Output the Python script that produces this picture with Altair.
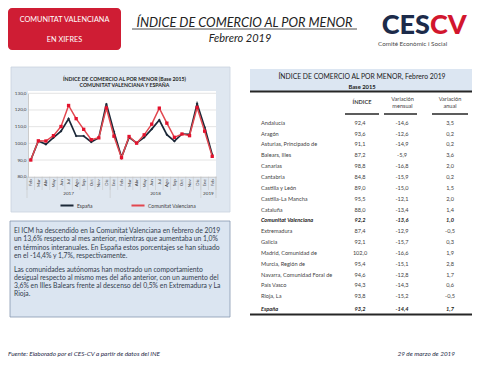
import json
import altair as alt
import pandas as pd

# ------------------------------------------------------------------ data
months = ["Feb", "Mar", "Abr", "May", "Jun", "Jul", "Ago", "Sep", "Oct", "Nov", "Dic",
          "Ene", "Feb", "Mar", "Abr", "May", "Jun", "Jul", "Ago", "Sep", "Oct", "Nov", "Dic",
          "Ene", "Feb"]
years = ["2017", "2018", "2019"]
months_per_year = [11, 12, 2]
espana = [90.0, 101.4, 99.4, 103.4, 107.3, 114.7, 104.4, 104.4, 100.8, 103.4, 123.6,
          107.0, 91.6, 103.6, 100.2, 103.6, 108.5, 114.0, 105.2, 101.3, 105.6, 105.4, 123.7,
          109.6, 93.2]
cvalenciana = [90.0, 101.5, 101.4, 104.6, 110.1, 122.7, 114.8, 108.4, 102.2, 103.3, 121.2,
               104.3, 91.4, 104.1, 100.1, 105.1, 111.5, 121.1, 112.1, 103.6, 105.6, 104.6, 121.5,
               107.3, 92.2]
y_ticks = [80, 90, 100, 110, 120, 130]
series_names = ["España", "Comunitat Valenciana"]

regions = ["Andalucía", "Aragón", "Asturias, Principado de", "Balears, Illes", "Canarias",
           "Cantabria", "Castilla y León", "Castilla-La Mancha", "Cataluña",
           "Comunitat Valenciana", "Extremadura", "Galicia", "Madrid, Comunidad de",
           "Murcia, Región de", "Navarra, Comunidad Foral de", "País Vasco", "Rioja, La"]
indice = [92.4, 93.6, 91.1, 87.2, 98.8, 84.8, 89.0, 95.5, 88.0, 92.2, 87.4, 92.1, 102.0,
          95.4, 94.6, 94.3, 93.8]
var_mensual = [-14.6, -12.6, -14.9, -5.9, -16.8, -15.9, -15.0, -12.1, -13.4, -13.6, -12.9,
               -15.7, -16.6, -15.1, -12.8, -14.3, -15.2]
var_anual = [3.5, 0.2, 0.2, 3.6, 2.0, 0.2, 1.5, 2.0, 1.4, 1.0, -0.5, 0.3, 1.9, 2.8, 1.7,
             0.6, -0.5]
total_name = "España"
total_values = [93.2, -14.4, 1.7]
highlight = "Comunitat Valenciana"

paragraph_1 = ["El ICM ha descendido en la Comunitat Valenciana en febrero de 2019",
               "un 13,6% respecto al mes anterior, mientras que aumentaba un 1,0%",
               "en términos interanuales. En España estos porcentajes se han situado",
               "en el -14,4% y 1,7%, respectivamente."]
paragraph_2 = ["Las comunidades autónomas han mostrado un comportamiento",
               "desigual respecto al mismo mes del año anterior, con un aumento del",
               "3,6% en Illes Balears frente al descenso del 0,5% en Extremadura y La",
               "Rioja."]

# ------------------------------------------------------------------ helpers
W, H = 464, 350
OFF = 8
FONT = "Lato"


def px(v):
    return v - OFF


one = alt.Data(values=[{"k": 0}])


def rect(x0, y0, x1, y1, **kw):
    return alt.Chart(one).mark_rect(**kw).encode(
        x=alt.value(px(x0)), x2=alt.value(px(x1)), y=alt.value(px(y0)), y2=alt.value(px(y1)))


def hline(x0, x1, y, **kw):
    return alt.Chart(one).mark_rule(**kw).encode(
        x=alt.value(px(x0)), x2=alt.value(px(x1)), y=alt.value(px(y)))


def text(t, x, y, **kw):
    kw.setdefault("font", FONT)
    kw.setdefault("baseline", "middle")
    return alt.Chart(one).mark_text(text=t, **kw).encode(x=alt.value(px(x)), y=alt.value(px(y)))


def fmt(v):
    return f"{v:.1f}".replace(".", ",")


layers = []

# ------------------------------------------------------------------ header
layers += [
    rect(8, 8, 121, 50, fill="#cf1d34", cornerRadius=4),
    text("COMUNITAT VALENCIANA", 64.5, 20, fontSize=7.3, color="white"),
    text("EN XIFRES", 64.5, 39.5, fontSize=7.3, color="white"),
    text("ÍNDICE DE COMERCIO AL POR MENOR", 244.5, 23, fontSize=12.8, fontStyle="italic",
         color="#222222"),
    hline(132, 357, 29, color="#222222", strokeWidth=0.8),
    text("Febrero 2019", 240, 39, fontSize=11, fontStyle="italic", color="#222222"),
    text("CES", 430, 26, fontSize=27, fontWeight=900, color="#1c2b4a", align="right"),
    text("CV", 430, 26, fontSize=27, fontWeight=900, color="#d2162e", align="left"),
    text("Comité Econòmic i Social", 378, 43.5, fontSize=6.3, color="#4a4a4a", align="left"),
]

# ------------------------------------------------------------------ line chart panel
layers += [
    rect(11, 67, 230, 212, fill="#dfe7f0", stroke="#c9d3de", strokeWidth=0.8),
    rect(28, 91, 216, 177, fill="#ffffff"),
    text("ÍNDICE DE COMERCIO AL POR MENOR (Base 2015)", 124.5, 79, fontSize=5.2,
         fontWeight="bold", color="#262626"),
    text("COMUNITAT VALENCIANA Y ESPAÑA", 124.5, 84.6, fontSize=5.2, fontWeight="bold",
         color="#262626"),
]

n = len(months)
xs = alt.Scale(domain=[-0.5, n - 0.5], range=[px(27), px(216)], nice=False, zero=False)
ys = alt.Scale(domain=[y_ticks[0], y_ticks[-1]], range=[px(176.7), px(93.3)], nice=False,
               zero=False)

df_lines = pd.DataFrame({
    "i": list(range(n)) * 2,
    "v": espana + cvalenciana,
    "serie": [series_names[0]] * n + [series_names[1]] * n,
})
df_grid = pd.DataFrame({"t": y_ticks[1:]})
df_sep = pd.DataFrame({"b": [i - 0.5 for i in range(n + 1)]})
starts = [sum(months_per_year[:k]) for k in range(len(years))]
df_years = pd.DataFrame({
    "year": years,
    "c": [s + (m - 1) / 2 for s, m in zip(starts, months_per_year)],
})
df_ysep = pd.DataFrame({"b": [s - 0.5 for s in starts] + [n - 0.5]})

x_axis = alt.Axis(orient="bottom", offset=px(176.7) - H, values=list(range(n)),
                  labelExpr=json.dumps(months) + "[datum.value]", labelAngle=-90,
                  labelFontSize=4.4, labelColor="#404040", labelFont=FONT, ticks=False,
                  domain=True, domainColor="#bfbfbf", domainWidth=0.8, grid=False,
                  labelPadding=2, labelOverlap=False, labelFlush=False, title=None, zindex=1)
y_axis = alt.Axis(orient="left", offset=-px(28), values=y_ticks,
                  labelExpr="replace(format(datum.value, '.1f'), '.', ',')",
                  labelFontSize=4.6, labelColor="#404040", labelFont=FONT, ticks=False,
                  domain=True, domainColor="#bfbfbf", domainWidth=0.8, grid=False,
                  labelPadding=2, title=None, zindex=1)

color_scale = alt.Scale(domain=series_names, range=["#1b2838", "#e2474f"])
legend = alt.Legend(orient="none", legendX=px(59), legendY=px(197.5), direction="horizontal",
                    title=None, symbolType="stroke", symbolStrokeWidth=2, symbolSize=170,
                    labelFontSize=5, labelFont=FONT, labelColor="#404040",
                    columnPadding=34, labelOffset=2, padding=0, zindex=1)

grid = alt.Chart(df_grid).mark_rule(color="#d9d9d9", strokeWidth=0.7).encode(
    y=alt.Y("t:Q", scale=ys, axis=y_axis), x=alt.value(px(28)), x2=alt.value(px(216)))
seps = alt.Chart(df_sep).mark_rule(color="#c8c8c8", strokeWidth=0.6).encode(
    x=alt.X("b:Q", scale=xs, axis=x_axis), y=alt.value(px(176.7)), y2=alt.value(px(190)))
ysep = alt.Chart(df_ysep).mark_rule(color="#c8c8c8", strokeWidth=0.6).encode(
    x=alt.X("b:Q", scale=xs, axis=x_axis), y=alt.value(px(176.7)), y2=alt.value(px(198)))
year_lbl = alt.Chart(df_years).mark_text(font=FONT, fontSize=4.6, color="#404040").encode(
    x=alt.X("c:Q", scale=xs, axis=x_axis), y=alt.value(px(194.3)), text="year:N")

base = alt.Chart(df_lines)
enc = dict(x=alt.X("i:Q", scale=xs, axis=x_axis), y=alt.Y("v:Q", scale=ys, axis=y_axis))
line_es = base.transform_filter(alt.datum.serie == series_names[0]).mark_line(
    strokeWidth=1.7).encode(color=alt.Color("serie:N", scale=color_scale, legend=legend), **enc)
line_cv = base.transform_filter(alt.datum.serie == series_names[1]).mark_line(
    strokeWidth=1.5).encode(color=alt.Color("serie:N", scale=color_scale, legend=legend), **enc)
pts_es = base.transform_filter(alt.datum.serie == series_names[0]).mark_point(
    shape="diamond", filled=True, size=7, color="#1b2838", opacity=1).encode(**enc)
pts_cv = base.transform_filter(alt.datum.serie == series_names[1]).mark_point(
    shape="square", filled=True, size=11, color="#e3122d", opacity=1).encode(**enc)

line_chart = alt.layer(grid, seps, ysep, year_lbl, line_es, pts_es, line_cv, pts_cv)
layers.append(line_chart)

# ------------------------------------------------------------------ table
TC = "#3f3f3f"
layers += [
    rect(250, 69, 472, 91, fill="#dce6f2"),
    hline(250, 472, 91.5, color="#262626", strokeWidth=1.8),
    text("ÍNDICE DE COMERCIO AL POR MENOR, Febrero 2019", 362, 76.5, fontSize=6.8,
         color="#1a1a1a"),
    text("Base 2015", 362, 86.6, fontSize=5.8, fontWeight="bold", color="#1a1a1a"),
    text("ÍNDICE", 362, 102.3, fontSize=5.6, fontWeight="bold", color=TC),
    text("Variación", 402.5, 99, fontSize=5.6, color=TC),
    text("mensual", 402.5, 105.6, fontSize=5.6, color=TC),
    text("Variación", 450, 99, fontSize=5.6, color=TC),
    text("anual", 450, 105.6, fontSize=5.6, color=TC),
    hline(345, 379, 114, color="#262626", strokeWidth=1.5),
    hline(384, 417, 114, color="#262626", strokeWidth=1.5),
    hline(432, 468, 114, color="#262626", strokeWidth=1.5),
    hline(250, 472, 314.6, color="#262626", strokeWidth=2),
]

df_tab = pd.DataFrame({
    "region": regions,
    "indice": [fmt(v) for v in indice],
    "men": [fmt(v) for v in var_mensual],
    "anu": [fmt(v) for v in var_anual],
    "row": list(range(len(regions))),
})
rs = alt.Scale(domain=[0, len(regions) - 1], range=[px(122.7), px(296.3)], nice=False,
               zero=False)
col_pos = [("region", 261, "left"), ("indice", 360, "center"), ("men", 402, "center"),
           ("anu", 450, "center")]


def table_cols(chart, **style):
    out = []
    for field, x, align in col_pos:
        out.append(chart.mark_text(align=align, font=FONT, fontSize=5.6, baseline="middle",
                                   **style).encode(
            x=alt.value(px(x)), y=alt.Y("row:Q", scale=rs, axis=None), text=f"{field}:N"))
    return out


tbase = alt.Chart(df_tab)
layers += table_cols(tbase.transform_filter(alt.datum.region != highlight), color=TC)
layers += table_cols(tbase.transform_filter(alt.datum.region == highlight), color="#1a1a1a",
                     fontWeight="bold", fontStyle="italic")

df_total = pd.DataFrame({
    "region": [total_name],
    "indice": [fmt(total_values[0])],
    "men": [fmt(total_values[1])],
    "anu": [fmt(total_values[2])],
})
for field, x, align in col_pos:
    layers.append(alt.Chart(df_total).mark_text(
        align=align, font=FONT, fontSize=5.6, baseline="middle", color="#1a1a1a",
        fontWeight="bold", fontStyle="italic").encode(
        x=alt.value(px(x)), y=alt.value(px(309)), text=f"{field}:N"))

# ------------------------------------------------------------------ text box
layers.append(rect(10, 221, 230, 317, fill="#dbe5f1", stroke="#8597b0", strokeWidth=0.8))
for k, line in enumerate(paragraph_1):
    layers.append(text(line, 14, 231 + k * 8.25, fontSize=6.8, color="#34404f", align="left"))
for k, line in enumerate(paragraph_2):
    layers.append(text(line, 14, 270 + k * 8.1, fontSize=6.8, color="#34404f", align="left"))

# ------------------------------------------------------------------ footer
layers += [
    text("Fuente: Elaborado por el CES-CV a partir de datos del INE", 8, 354, fontSize=6.4,
         fontStyle="italic", color="#1f2d4a", align="left"),
    text("29 de marzo de 2019", 455, 354, fontSize=6.4, fontStyle="italic",
         color="#1f2d4a", align="right"),
]

chart = alt.layer(*layers).resolve_scale(
    x="independent", y="independent"
).properties(
    width=W, height=H, padding=0, autosize=alt.AutoSizeParams(type="none"),
    background="white"
).configure_view(stroke=None)

chart.save("out.html", embed_options={"renderer": "svg", "actions": False})
